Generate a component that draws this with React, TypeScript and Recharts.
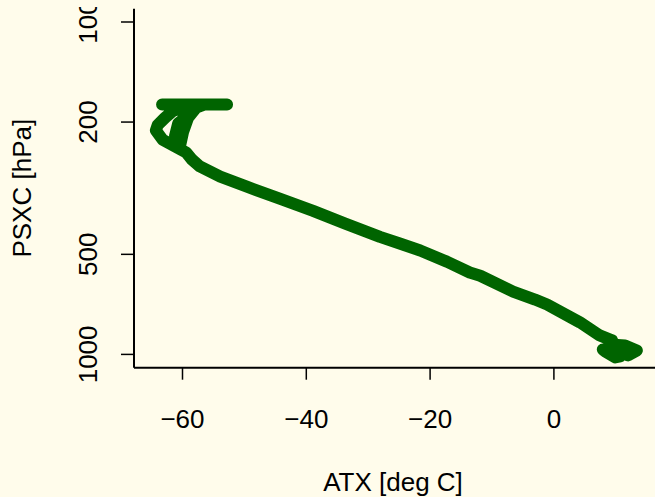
import React from 'react';
import { LineChart, Line, XAxis, YAxis } from 'recharts';

// Sounding profile: temperature (deg C) vs pressure (hPa), in recording order
const temperature = [
  10.7, 9.9, 8.25, 7.9, 10.35, 12.0, 13.4, 11.5, 9.1, 9.4, 7.4, 4.2, -1.1, -3.05, -6.6,
  -11.9, -13.6, -17.3, -21.6, -24.9, -28.1, -33.7, -38.9, -44.3, -49.6, -53.9, -57.2,
  -58.5, -59.4, -61.2, -63.2, -64.3, -64.0, -62.8, -61.5, -59.6, -58.8, -60.7, -61.2,
  -60.4, -59.9, -59.1, -57.8, -56.4, -52.8, -63.3, -58.0,
];
const pressure = [
  1014, 1021, 979, 966, 979, 1007, 973, 940, 933, 907, 877, 801, 708, 684, 647,
  580, 567, 526, 487, 464, 443, 404, 370, 340, 313, 292, 272,
  259, 247, 237, 226, 212, 204, 194, 185, 181, 189, 202, 220,
  236, 214, 194, 181, 177, 177, 177, 177,
];
const xTicks = [-60, -40, -20, 0];
const yTicks = [100, 200, 500, 1000];
const xTitle = 'ATX [deg C]';
const yTitle = 'PSXC [hPa]';

const FONT = '"Liberation Sans", Arial, Helvetica, sans-serif';
const BG = '#FFFCEB';
const GREEN = '#006400';
const FS = 26;

const data = temperature.map((t, i) => ({ t, p: pressure[i] }));

const fmt = (v: number) => (v < 0 ? '\u2212' + Math.abs(v) : String(v));

const XTick = (props: any) => {
  const { x, y, payload } = props;
  return (
    <text x={x} y={y + 48} textAnchor="middle" fontSize={FS} fontFamily={FONT} fill="#000">
      {fmt(payload.value)}
    </text>
  );
};

const YTick = (props: any) => {
  const { x, y, payload } = props;
  const bx = x - 24;
  const id = 'yclip-' + payload.value;
  return (
    <g>
      <defs>
        <clipPath id={id}>
          <rect x={-1000} y={7} width={3000} height={3000} />
        </clipPath>
      </defs>
      <g clipPath={`url(#${id})`}>
        <text
          x={bx}
          y={y}
          transform={`rotate(-90, ${bx}, ${y})`}
          textAnchor="middle"
          fontSize={FS}
          fontFamily={FONT}
          fill="#000"
        >
          {payload.value}
        </text>
      </g>
    </g>
  );
};

const XTitle = (props: any) => {
  const vb = props.viewBox || { x: 134, y: 367.7 };
  return (
    <text x={vb.x + 259} y={vb.y + 123} textAnchor="middle" fontSize={FS} fontFamily={FONT} fill="#000">
      {xTitle}
    </text>
  );
};

const YTitle = (props: any) => {
  const vb = props.viewBox || { x: 0, y: 8.7, height: 359 };
  const cx = vb.x + 31;
  const cy = vb.y + vb.height / 2;
  return (
    <text
      x={cx}
      y={cy}
      transform={`rotate(-90, ${cx}, ${cy})`}
      textAnchor="middle"
      fontSize={FS}
      fontFamily={FONT}
      fill="#000"
    >
      {yTitle}
    </text>
  );
};

export default function App() {
  return (
    <div
      style={{
        position: 'absolute',
        left: 0,
        top: 0,
        width: 655,
        height: 497,
        overflow: 'hidden',
        background: BG,
      }}
    >
      <LineChart width={670} height={497} data={data} margin={{ top: 8.7, right: 0, bottom: 0, left: 0 }}>
        <XAxis
          xAxisId="top"
          orientation="top"
          type="number"
          dataKey="t"
          domain={[-67.835, 18.756]}
          allowDataOverflow
          height={0}
          tick={false}
          tickLine={false}
          axisLine={{ stroke: '#000', strokeWidth: 2 }}
        />
        <XAxis
          type="number"
          dataKey="t"
          domain={[-67.835, 18.756]}
          allowDataOverflow
          ticks={xTicks}
          height={129.3}
          tickSize={12}
          tickMargin={0}
          tick={<XTick />}
          tickLine={{ stroke: '#000', strokeWidth: 1.5 }}
          axisLine={{ stroke: '#000', strokeWidth: 2 }}
          label={(p: any) => <XTitle {...p} />}
        />
        <YAxis
          type="number"
          scale="log"
          domain={[91.2, 1096.5]}
          allowDataOverflow
          reversed
          ticks={yTicks}
          width={134}
          tickSize={13}
          tickMargin={0}
          tick={<YTick />}
          tickLine={{ stroke: '#000', strokeWidth: 1.5 }}
          axisLine={{ stroke: '#000', strokeWidth: 2 }}
          label={(p: any) => <YTitle {...p} />}
        />
        <Line
          dataKey="p"
          type="linear"
          stroke={GREEN}
          strokeWidth={12}
          strokeLinecap="round"
          strokeLinejoin="round"
          dot={false}
          activeDot={false}
          isAnimationActive={false}
        />
      </LineChart>
    </div>
  );
}
